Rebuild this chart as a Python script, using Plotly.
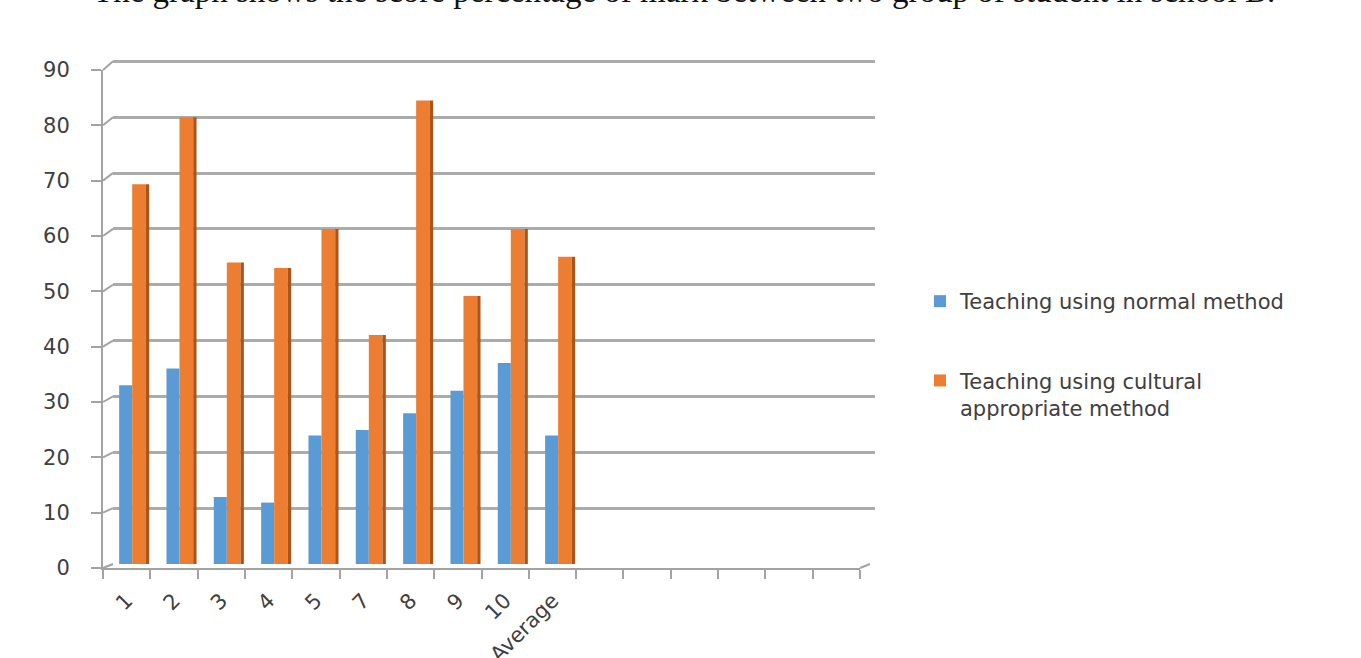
import plotly.graph_objects as go

# Score percentages for the two teaching groups in school B
students = ["1", "2", "3", "4", "5", "7", "8", "9", "10", "Average"]
normal_method = [32, 35, 12, 11, 23, 24, 27, 31, 36, 23]
cultural_method = [68, 80, 54, 53, 60, 41, 83, 48, 60, 55]
y_ticks = [0, 10, 20, 30, 40, 50, 60, 70, 80, 90]

W, H = 1361, 658
L, R, T, B = 103, 486, 58, 90
PW, PH = W - L - R, H - T - B

# back wall (gridlines + bars) vs. front axes (ticks + labels) of the 3-D look
back_x0 = 10 / PW
back_y0 = 4 / PH
back_top = 90.6
front_x1 = 757 / PW
front_y1 = 498 / PH

BLUE = "#5b9bd5"
ORANGE = "#ed7d31"
ORANGE_SIDE = "#a9561e"
GRID = "#ababab"
AXIS = "#a3a3a3"
TEXT = "#404040"

fig = go.Figure()

fig.add_trace(go.Bar(
    x=students, y=normal_method, name="Teaching using normal method",
    marker=dict(color=BLUE, line=dict(width=0)),
    width=0.275, offset=-0.37, legendgroup="a",
))
fig.add_trace(go.Bar(
    x=students, y=cultural_method,
    name="Teaching using cultural<br>appropriate method",
    marker=dict(color=ORANGE, line=dict(width=0)),
    width=0.29, offset=-0.095, legendgroup="b",
))
# shaded side face of the orange columns
fig.add_trace(go.Bar(
    x=students, y=cultural_method, showlegend=False, hoverinfo="skip",
    marker=dict(color=ORANGE_SIDE, line=dict(width=0)),
    width=0.07, offset=0.195, legendgroup="b",
))
# empty trace so the front axis pair is drawn
fig.add_trace(go.Scatter(x=[], y=[], xaxis="x2", yaxis="y2",
                         showlegend=False, hoverinfo="skip"))

fig.update_layout(
    width=W, height=H,
    margin=dict(l=L, r=R, t=T, b=B, autoexpand=False),
    paper_bgcolor="white", plot_bgcolor="rgba(0,0,0,0)",
    barmode="overlay",
    font=dict(family="DejaVu Sans", size=20, color=TEXT),
    xaxis=dict(
        domain=[back_x0, 1], range=[-0.5, 15.6], type="category",
        showgrid=False, zeroline=False, showticklabels=False, showline=False,
        automargin=False,
    ),
    yaxis=dict(
        domain=[back_y0, 1], range=[0, back_top],
        tickvals=y_ticks, showticklabels=False,
        showgrid=True, gridcolor=GRID, gridwidth=3,
        zeroline=False, showline=False, automargin=False,
    ),
    xaxis2=dict(
        domain=[0, front_x1], range=[-0.5, 15.5], anchor="y2",
        tickmode="array", tickvals=list(range(len(students))), ticktext=students,
        ticks="", tickangle=-45, ticklabelstandoff=10,
        tickfont=dict(size=21, color=TEXT),
        minor=dict(tickmode="array", tickvals=[i - 0.5 for i in range(17)],
                   ticks="outside", ticklen=9, tickwidth=2, tickcolor=AXIS),
        showgrid=False, zeroline=False,
        showline=True, linecolor=AXIS, linewidth=2, automargin=False,
    ),
    yaxis2=dict(
        domain=[0, front_y1], range=[0, 90], anchor="x2",
        tickvals=y_ticks, ticks="outside", ticklen=10, tickwidth=2,
        tickcolor=AXIS, ticklabelstandoff=17,
        tickfont=dict(size=21, color=TEXT),
        showgrid=False, zeroline=False,
        showline=True, linecolor=AXIS, linewidth=2, automargin=False,
    ),
    legend=dict(
        x=(920 - L) / PW, y=(H - B - 281) / PH, xanchor="left", yanchor="top",
        font=dict(size=21, color=TEXT), tracegroupgap=49, valign="top",
        bgcolor="rgba(0,0,0,0)",
    ),
    showlegend=True,
)

# short slanted connectors between the front axis ticks and the back gridlines
shapes = []
for v in y_ticks:
    shapes.append(dict(
        type="line", xref="paper", yref="paper",
        x0=0, y0=front_y1 * v / 90,
        x1=back_x0, y1=back_y0 + (1 - back_y0) * v / back_top,
        line=dict(color=AXIS, width=2),
    ))
shapes.append(dict(
    type="line", xref="paper", yref="paper",
    x0=front_x1, y0=0, x1=front_x1 + back_x0, y1=back_y0,
    line=dict(color=AXIS, width=2),
))
fig.update_layout(shapes=shapes)

fig.add_annotation(
    text="The graph shows the score percentage of mark between two group of student in school B.",
    xref="paper", yref="paper", x=-12 / PW, y=(H - B - 11) / PH,
    xanchor="left", yanchor="bottom", showarrow=False,
    font=dict(family="Liberation Serif", size=33, color="#111111"),
)

fig.write_html("out.html")
